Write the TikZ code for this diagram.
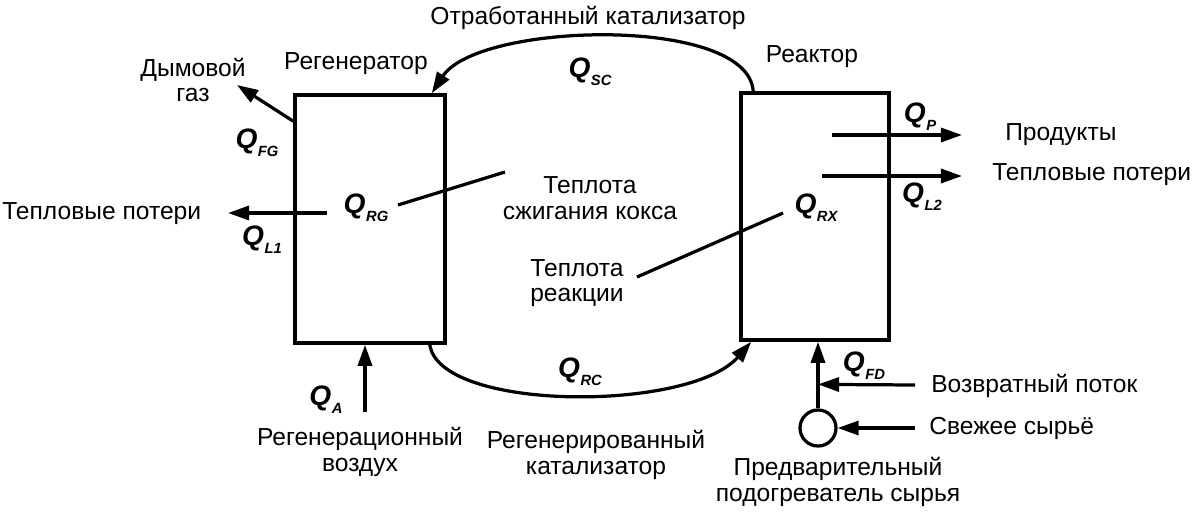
\documentclass[tikz,border=0pt]{standalone}
\usepackage{fontspec}
\setmainfont{Liberation Sans}
\usetikzlibrary{arrows.meta,calc}
\newcommand{\QQ}[1]{{\fontsize{20}{20}\selectfont\bfseries\itshape Q}\kern0.02em\raisebox{-0.6ex}{\fontsize{10.5}{10.5}\selectfont\bfseries\itshape #1}}
\begin{document}
\begin{tikzpicture}[x=0.025cm,y=-0.025cm,
  font=\fontsize{17.5}{18}\selectfont,
  line/.style={line width=2.3pt},
  arr/.style={line width=2.3pt,-{Triangle[length=15pt,width=10pt]}},
  box/.style={draw,line width=2.5pt,inner sep=0pt},
  lbl/.style={inner sep=0pt,align=center}]
\useasboundingbox (0,0) rectangle (1200,514);

% vessels
\node[box,minimum width=3.75cm,minimum height=6.2cm] (rg) at (370,219) {};
\node[box,minimum width=3.7cm,minimum height=6.175cm] (rx) at (815,216.5) {};
\node[draw,circle,line width=2.3pt,minimum size=0.9cm,inner sep=0pt] (heater) at (818,428) {};

% texts
\node[lbl] (title) at (588,18) {Отработанный катализатор};
\node[lbl] (rgname) at (356,64) {Регенератор};
\node[lbl] (rxname) at (812,57) {Реактор};
\node[lbl] (flue) at (193,80) {Дымовой\\газ};
\node[lbl] (qfg) at (257,143) {\QQ{FG}};
\node[lbl,anchor=west] (loss1) at (2,214) {Тепловые потери};
\node[lbl] (ql1) at (262,240) {\QQ{L1}};
\node[lbl] (qrg) at (366,208) {\QQ{RG}};
\node[lbl] (coke) at (590,198) {Теплота\\сжигания кокса};
\node[lbl] (react) at (577,283) {Теплота\\реакции};
\node[lbl] (qrx) at (816,208) {\QQ{RX}};
\node[lbl] (qsc) at (590,72) {\QQ{SC}};
\node[lbl] (qrc) at (580,372) {\QQ{RC}};
\node[lbl] (qp) at (920,117) {\QQ{P}};
\node[lbl] (ql2) at (922,197) {\QQ{L2}};
\node[lbl,anchor=west] (prod) at (1005,135) {Продукты};
\node[lbl,anchor=west] (loss2) at (992,175) {Тепловые потери};
\node[lbl] (qa) at (326,400) {\QQ{A}};
\node[lbl] (air) at (360,452) {Регенерационный\\воздух};
\node[lbl] (regcat) at (596,455) {Регенерированный\\катализатор};
\node[lbl] (qfd) at (864,366) {\QQ{FD}};
\node[lbl,anchor=west] (ret) at (931,386) {Возвратный поток};
\node[lbl,anchor=west] (fresh) at (929,428) {Свежее сырьё};
\node[lbl] (pre) at (838,482) {Предварительный\\подогреватель сырья};

% free ends
\coordinate (fgtip) at (237,85);
\coordinate (l1start) at (327,213);
\coordinate (l1tip) at (228,213);
\coordinate (rgl1) at (398,205);
\coordinate (rgl2) at (505,172);
\coordinate (rxl1) at (783,213);
\coordinate (rxl2) at (637,277);
\coordinate (pstart) at (832,135);
\coordinate (ptip) at (962,135);
\coordinate (l2start) at (822,176);
\coordinate (l2tip) at (962,176);
\coordinate (airstart) at (365,412);
\coordinate (retstart) at (915,385);
\coordinate (freshstart) at (915,428);

% catalyst loops
\draw[arr] ($(rx.north west)+(14,0)$) .. controls (748,15) and (478,22) .. ($(rg.north east)+(-15,0)$);
\draw[arr] ($(rg.south east)+(-17,0)$) .. controls (440,412) and (690,412) .. ($(rx.south west)+(12,0)$);

% regenerator streams
\draw[arr] ($(rg.north west)+(0,28)$) -- (fgtip);
\draw[arr] (l1start) -- (l1tip);
\draw[line] (rgl1) -- (rgl2);
\draw[arr] (airstart) -- (airstart |- rg.south);

% reactor streams
\draw[line] (rxl1) -- (rxl2);
\draw[arr] (pstart) -- (ptip);
\draw[arr] (l2start) -- (l2tip);
\draw[arr] (heater.north) -- (heater.north |- rx.south);
\draw[arr] (retstart) -- ($(heater.north)+(0,-24)$);
\draw[arr] (freshstart) -- (heater.east);
\end{tikzpicture}
\end{document}
